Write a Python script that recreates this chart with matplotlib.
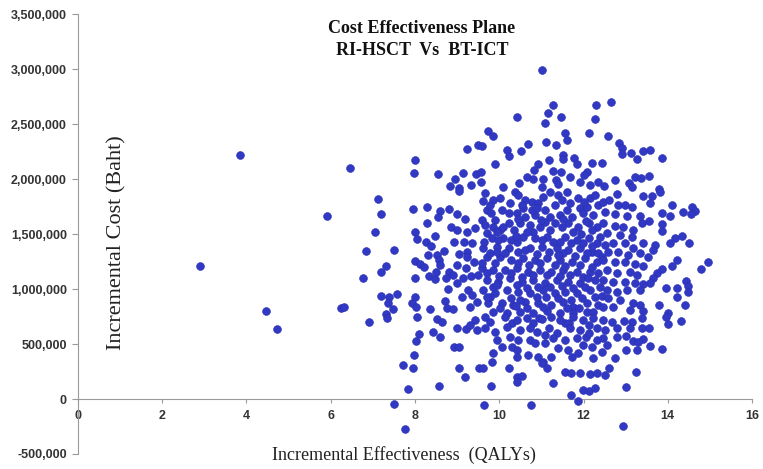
import numpy as np
import matplotlib
matplotlib.use("Agg")
import matplotlib.pyplot as plt
from matplotlib.ticker import FuncFormatter

# (incremental QALYs, incremental cost in thousand Baht)
far_left = [(2.90, 1210), (3.85, 2218), (4.47, 804), (4.72, 632), (5.91, 1664),
            (6.46, 2100), (6.25, 830), (6.32, 840)]

upper_left = [(9.24, 2270), (9.50, 2309), (8.00, 2173), (7.98, 2052), (8.55, 2045),
              (8.95, 2003), (9.15, 2052), (9.45, 2045), (8.83, 1939), (9.05, 1915),
              (9.32, 1945)]

upper_mid = [(11.02, 2991), (11.27, 2673), (12.29, 2673), (11.15, 2603), (11.47, 2566),
             (10.41, 2566), (12.27, 2543), (11.09, 2506), (9.74, 2436), (9.84, 2391),
             (11.56, 2421), (12.14, 2415), (11.62, 2355), (11.10, 2339), (10.69, 2318),
             (11.35, 2309), (9.58, 2300), (10.19, 2264), (10.23, 2212), (10.51, 2255),
             (11.51, 2218), (11.78, 2188), (11.52, 2179), (11.18, 2173), (11.84, 2136),
             (12.19, 2143), (9.90, 2136), (10.93, 2136), (10.82, 2082), (11.27, 2075),
             (11.47, 2061), (12.08, 2061), (9.56, 2066), (10.65, 2015), (10.81, 1997),
             (11.03, 2003), (11.35, 1991), (11.68, 2015), (12.00, 2036), (9.56, 1975),
             (10.48, 1961), (10.10, 1930), (11.01, 1930), (11.40, 1955), (11.92, 1975),
             (12.15, 1945), (12.35, 1975)]

upper_right = [(12.65, 2700), (12.59, 2391), (12.85, 2325), (12.91, 2285), (12.91, 2227),
               (13.13, 2234), (13.26, 2185), (13.41, 2252), (13.58, 2261), (13.87, 2194),
               (12.43, 2143), (12.75, 1991), (13.09, 1961), (13.22, 2015), (13.36, 2006),
               (13.56, 2027), (13.14, 1930), (12.49, 1936), (13.80, 1906)]

middle_left = [(7.11, 1818), (7.19, 1679), (7.05, 1515), (6.84, 1345), (7.51, 1355),
               (6.77, 1097), (7.19, 1157), (7.31, 1212), (7.96, 1725), (8.28, 1748),
               (8.59, 1709), (8.55, 1652), (8.81, 1725), (9.00, 1682), (9.19, 1636),
               (9.04, 1894), (8.28, 1597), (8.00, 1515), (8.04, 1455), (8.47, 1482),
               (8.85, 1566), (8.99, 1536), (9.23, 1521), (9.42, 1552), (8.25, 1425),
               (8.37, 1394), (8.93, 1430), (9.17, 1430), (9.36, 1415), (8.32, 1309),
               (8.53, 1309), (8.69, 1345), (9.04, 1318), (9.24, 1339), (9.24, 1294),
               (8.00, 1255), (8.12, 1224), (8.21, 1197), (8.57, 1264), (8.59, 1218),
               (8.99, 1218), (9.21, 1188), (9.41, 1248), (8.50, 1157), (8.81, 1157),
               (8.00, 1097), (8.33, 1118), (8.47, 1088), (8.74, 1097), (8.91, 1127),
               (9.15, 1097), (9.33, 1118), (9.50, 1127), (9.00, 1052), (8.79, 997),
               (9.25, 991), (9.11, 930), (9.35, 945), (7.19, 936), (7.39, 925),
               (7.58, 952), (7.35, 870), (7.47, 815), (8.00, 930), (7.92, 870),
               (8.02, 839), (8.36, 815), (8.71, 891), (8.75, 825), (8.91, 815),
               (9.31, 839), (9.46, 885), (7.31, 773)]

middle_core = [(9.66, 1870), (9.86, 1809), (9.70, 1718), (10.06, 1718), (10.37, 1885),
               (10.45, 1855), (10.61, 1809), (10.77, 1794), (10.57, 1733), (10.93, 1779),
               (11.21, 1885), (11.40, 1855), (11.48, 1809), (11.68, 1779), (11.88, 1824),
               (11.92, 1733), (12.15, 1824), (12.27, 1855), (12.35, 1764), (9.58, 1627),
               (9.90, 1627), (9.86, 1567), (10.22, 1597), (10.41, 1688), (10.61, 1658),
               (10.85, 1673), (11.09, 1718), (11.21, 1658), (11.44, 1673), (11.72, 1658),
               (11.99, 1688), (12.23, 1673), (9.70, 1506), (10.02, 1536), (10.34, 1536),
               (10.73, 1582), (10.97, 1567), (11.32, 1597), (11.64, 1597), (11.88, 1567),
               (12.12, 1597), (12.31, 1567), (9.82, 1461), (10.10, 1461), (10.29, 1445),
               (10.57, 1476), (10.85, 1461), (11.13, 1476), (11.28, 1430), (11.56, 1476),
               (11.84, 1445), (12.12, 1461), (12.31, 1415), (9.62, 1370), (9.94, 1385),
               (10.22, 1370), (10.45, 1339), (10.73, 1370), (11.01, 1385), (11.36, 1370),
               (11.64, 1355), (11.92, 1370), (12.19, 1339), (9.70, 1294), (10.02, 1294),
               (10.29, 1264), (10.57, 1279), (10.85, 1264), (11.13, 1279), (11.44, 1264),
               (11.72, 1248), (12.04, 1279), (12.31, 1248), (9.58, 1188), (9.86, 1173),
               (10.14, 1173), (10.41, 1188), (10.69, 1158), (10.97, 1173), (11.24, 1158),
               (11.52, 1173), (11.84, 1158), (12.15, 1158), (9.70, 1082), (9.98, 1067),
               (10.26, 1097), (10.53, 1067), (10.81, 1082), (11.09, 1052), (11.36, 1082),
               (11.64, 1067), (11.92, 1052), (12.27, 1082), (9.62, 991), (9.90, 961),
               (10.18, 991), (10.45, 976), (10.73, 961), (11.05, 991), (11.32, 961),
               (11.56, 976), (11.84, 961), (12.15, 991), (9.74, 870), (10.06, 870),
               (10.33, 855), (10.61, 885), (10.93, 870), (11.24, 855), (11.52, 885),
               (11.76, 839), (12.08, 870), (12.35, 855), (9.86, 794), (10.18, 779),
               (10.49, 794), (10.81, 785), (11.13, 803), (11.44, 785), (11.76, 779),
               (12.08, 794)]

# points hidden in the saturated centre, between the ones above
middle_fill = [(9.78, 1764), (10.26, 1779), (11.05, 1839), (11.60, 1718), (12.08, 1748),
               (10.22, 1688), (10.77, 1718), (11.32, 1764), (9.66, 1582), (10.49, 1597),
               (11.09, 1612), (11.48, 1567), (12.19, 1536), (9.94, 1521), (10.81, 1521),
               (11.76, 1521), (10.41, 1430), (11.01, 1445), (11.44, 1430), (11.99, 1415),
               (9.98, 1445), (9.78, 1324), (10.14, 1324), (10.61, 1355), (11.17, 1339),
               (11.52, 1324), (12.08, 1324), (12.35, 1324), (9.90, 1233), (10.45, 1233),
               (10.97, 1233), (11.32, 1218), (11.92, 1218), (9.70, 1142), (10.29, 1142),
               (10.81, 1127), (11.13, 1127), (11.68, 1127), (11.99, 1112), (12.35, 1142),
               (9.86, 1021), (10.41, 1036), (10.93, 1021), (11.21, 1021), (11.76, 1006),
               (12.04, 1021), (9.78, 930), (10.29, 915), (10.89, 930), (11.40, 915),
               (11.96, 915), (12.27, 930), (10.02, 824), (10.65, 824), (11.05, 839),
               (11.60, 824), (12.23, 794), (9.78, 703), (10.30, 688), (10.81, 688),
               (11.56, 688), (12.12, 673), (11.09, 582), (11.56, 536), (10.26, 567),
               (9.62, 1800), (10.02, 1830), (10.53, 1760), (10.89, 1740), (11.60, 1880),
               (12.00, 1790), (9.80, 1690), (10.45, 1640), (11.00, 1630), (11.52, 1640),
               (12.05, 1620), (10.10, 1560), (10.65, 1520), (11.20, 1540), (11.95, 1500),
               (12.40, 1470), (9.64, 1430), (10.40, 1480), (11.70, 1420), (12.20, 1390),
               (9.95, 1340), (10.90, 1320), (11.40, 1310), (11.80, 1300), (12.45, 1290),
               (9.60, 1240), (10.70, 1220), (11.55, 1210), (12.20, 1200), (10.00, 1120),
               (10.55, 1110), (11.45, 1120), (12.10, 1100), (9.95, 1040), (10.65, 1010),
               (11.50, 1030), (12.40, 1020), (10.50, 900), (11.10, 930), (11.70, 900),
               (12.45, 940), (9.70, 930), (10.40, 850), (11.90, 830), (10.95, 740),
               (11.65, 690), (10.45, 540), (12.05, 560)]

middle_right = [(12.80, 1864), (13.42, 1845), (13.62, 1845), (13.82, 1885), (13.58, 1779),
                (12.47, 1794), (12.61, 1809), (12.83, 1764), (12.99, 1764), (13.14, 1742),
                (12.51, 1703), (12.75, 1682), (13.03, 1664), (13.34, 1664), (13.86, 1688),
                (14.09, 1764), (14.05, 1664), (14.37, 1703), (14.57, 1742), (14.65, 1712),
                (14.54, 1682), (13.38, 1597), (13.56, 1621), (13.86, 1591), (13.86, 1530),
                (12.47, 1597), (12.75, 1573), (12.94, 1567), (13.18, 1536), (12.55, 1506),
                (12.87, 1491), (13.14, 1476), (13.42, 1421), (13.70, 1400), (13.66, 1355),
                (14.05, 1415), (14.17, 1461), (14.33, 1482), (14.51, 1421), (12.51, 1400),
                (12.71, 1415), (12.99, 1415), (13.18, 1370), (12.59, 1339), (12.83, 1339),
                (13.06, 1309), (13.34, 1324), (13.54, 1294), (14.21, 1264), (14.09, 1209),
                (14.96, 1248), (14.79, 1182), (12.47, 1264), (12.75, 1248), (12.99, 1248),
                (13.22, 1227), (13.42, 1209), (13.86, 1182), (13.74, 1142), (13.66, 1103),
                (13.58, 1058), (12.55, 1173), (12.79, 1148), (13.10, 1157), (13.26, 1127),
                (12.47, 1082), (12.71, 1067), (12.99, 1067), (13.22, 1052), (13.42, 1045),
                (13.97, 1006), (14.21, 1006), (14.43, 1076), (14.49, 1027), (14.49, 976),
                (14.21, 930), (12.55, 991), (12.79, 976), (13.03, 991), (13.34, 991),
                (12.59, 915), (12.87, 900), (13.18, 870), (13.34, 855), (13.80, 855),
                (14.41, 855), (12.47, 839), (12.71, 834), (13.10, 809), (13.42, 803),
                (14.01, 785)]

lower_left = [(6.92, 697), (7.33, 739), (8.04, 748), (8.53, 727), (8.63, 703),
              (8.10, 588), (8.02, 527), (8.43, 606), (8.59, 566), (8.99, 643),
              (9.21, 636), (9.31, 673), (9.42, 718), (9.46, 627), (8.93, 470),
              (9.05, 475), (7.98, 400), (7.71, 309), (7.96, 279), (9.04, 279),
              (9.19, 203), (8.58, 121), (7.84, 91), (7.51, -48), (7.76, -273),
              (9.53, 279)]

lower_mid = [(9.66, 748), (10.14, 748), (10.41, 718), (10.65, 733), (11.01, 727),
             (11.24, 748), (11.44, 718), (11.76, 748), (11.99, 718), (12.23, 733),
             (9.66, 642), (9.90, 612), (10.18, 658), (10.49, 627), (10.73, 642),
             (10.89, 612), (11.17, 642), (11.36, 597), (11.68, 642), (11.92, 627),
             (12.12, 597), (12.31, 642), (9.94, 536), (10.06, 476), (10.30, 476),
             (10.41, 445), (10.73, 536), (10.85, 506), (11.09, 506), (11.28, 551),
             (11.40, 461), (11.64, 445), (11.84, 551), (11.99, 491), (12.19, 476),
             (12.31, 536), (9.86, 415), (9.82, 339), (10.41, 385), (10.69, 400),
             (10.93, 385), (11.05, 339), (11.24, 385), (11.72, 385), (11.88, 415),
             (12.23, 370), (11.01, 324), (9.61, 285), (10.24, 279), (11.13, 279),
             (11.56, 248), (11.70, 233), (11.92, 233), (12.15, 224), (12.31, 233),
             (10.41, 203), (10.53, 212), (10.43, 158), (9.80, 121), (11.28, 142),
             (11.99, 82), (12.12, 73), (12.27, 97), (11.70, 36), (11.88, -18),
             (9.64, -55), (10.75, -55)]

lower_right = [(12.47, 718), (12.67, 703), (12.95, 709), (13.14, 703), (13.40, 733),
               (13.97, 748), (14.31, 709), (14.01, 679), (12.79, 642), (13.10, 642),
               (13.40, 642), (13.56, 648), (12.51, 627), (12.79, 567), (13.02, 576),
               (13.18, 527), (13.42, 545), (13.58, 485), (13.86, 451), (13.30, 521),
               (13.02, 445), (13.26, 445), (12.47, 551), (12.55, 491), (12.43, 430),
               (12.75, 370), (12.61, 279), (12.51, 218), (13.25, 248), (13.01, 112),
               (12.94, -243)]

y_ticks = [-500000, 0, 500000, 1000000, 1500000, 2000000, 2500000, 3000000, 3500000]
x_ticks = [0, 2, 4, 6, 8, 10, 12, 14, 16]

pts = np.array(far_left + upper_left + upper_mid + upper_right + middle_left
               + middle_core + middle_fill + middle_right + lower_left
               + lower_mid + lower_right)
qalys = pts[:, 0]
cost = pts[:, 1] * 1000

fig = plt.figure(figsize=(7.63, 4.69), dpi=100)
ax = fig.add_axes([0.1022, 0.032, 0.8834, 0.938])

ax.scatter(qalys, cost, s=32, color="#3038C4", edgecolors="#2A30B0",
           linewidths=0.4, zorder=3)

ax.set_xlim(0, 16)
ax.set_ylim(-500000, 3500000)
ax.set_xticks(x_ticks)
ax.set_yticks(y_ticks)
ax.yaxis.set_major_formatter(FuncFormatter(lambda v, p: f"{int(v):,}"))

for s in ["top", "right"]:
    ax.spines[s].set_visible(False)
ax.spines["bottom"].set_position(("data", 0))
ax.spines["left"].set_color("#9a9a9a")
ax.spines["bottom"].set_color("#9a9a9a")

ax.tick_params(axis="y", direction="out", length=4, color="#9a9a9a", pad=4)
ax.tick_params(axis="x", direction="out", length=3, color="#9a9a9a", pad=5)
for lab in ax.get_xticklabels() + ax.get_yticklabels():
    lab.set_fontfamily("Liberation Sans")
    lab.set_fontweight("bold")
    lab.set_fontsize(9)
    lab.set_color("#333333")

ax.text(0.058, 0.48, "Incremental Cost (Baht)", transform=ax.transAxes,
        rotation=90, ha="center", va="center", fontsize=16,
        family="Liberation Serif", color="#222222")
fig.text(0.53, 0.03, "Incremental Effectiveness  (QALYs)", ha="center",
         va="center", fontsize=13, family="Liberation Serif", color="#222222")

fig.text(0.553, 0.94, "Cost Effectiveness Plane", ha="center", va="center",
         fontsize=13, fontweight="bold", family="Liberation Serif", color="#111111")
fig.text(0.553, 0.893, "RI-HSCT  Vs  BT-ICT", ha="center", va="center",
         fontsize=13, fontweight="bold", family="Liberation Serif", color="#111111")

fig.savefig("out.png", dpi=100)
